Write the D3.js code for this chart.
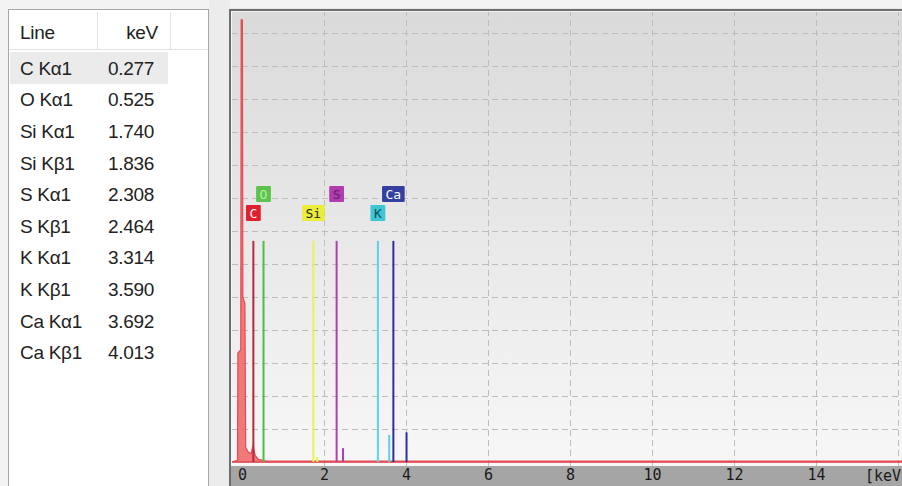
<!DOCTYPE html>
<html lang="en">
  <head>
    <meta charset="utf-8" />
    <title>EDS spectrum</title>
    <script src="https://cdnjs.cloudflare.com/ajax/libs/d3/7.8.5/d3.min.js"></script>
    <style type="text/css">
      body { margin: 0; background: #f3f3f3; }
      .cell { font-family: Arial, "Liberation Sans", sans-serif; font-size: 19px; fill: #222; letter-spacing: -0.3px; }
      .tick text { font-family: "DejaVu Sans Mono", monospace; font-size: 15px; fill: #1a1a1a; }
      .grid line { stroke: #bdbdbd; stroke-dasharray: 6, 4; }
      .grid .domain { display: none; }
      .tag { font-family: "DejaVu Sans Mono", monospace; font-size: 13px; }
    </style>
  </head>
  <body>
    <div id="chart"></div>
    <script>
      // Table of lines
      const lineNames = ['C Kα1', 'O Kα1', 'Si Kα1', 'Si Kβ1', 'S Kα1', 'S Kβ1', 'K Kα1', 'K Kβ1', 'Ca Kα1', 'Ca Kβ1'];
      const lineKeV = [0.277, 0.525, 1.740, 1.836, 2.308, 2.464, 3.314, 3.590, 3.692, 4.013];

      // Element markers (Kα) and their Kβ companions
      const elements = ['C', 'O', 'Si', 'S', 'K', 'Ca'];
      const alphaKeV = [0.277, 0.525, 1.740, 2.308, 3.314, 3.692];
      const alphaHeight = [6.7, 6.7, 6.7, 6.7, 6.7, 6.7];
      const betaKeV = [null, null, 1.836, 2.464, 3.590, 4.013];
      const betaHeight = [0, 0, 0.15, 0.42, 0.82, 0.9];
      const labelRow = [0, 1, 0, 1, 0, 1];
      const fillColors = ['#e0202e', '#5cc44c', '#ecec3a', '#b03cae', '#3ec6d2', '#3440a0'];
      const textColors = ['#ffffff', '#b8f0a8', '#202020', '#6a1a6a', '#0c4e56', '#ffffff'];
      const lineColors = ['#b8283c', '#48c048', '#f0f050', '#b040b0', '#5ad2ea', '#2e2e9c'];

      // Spectrum (keV, counts in grid units)
      const specKeV = [-0.25, -0.11, -0.10, -0.03, -0.02, 0.01, 0.02, 0.07, 0.09, 0.15, 0.22, 0.27, 0.32, 0.4, 0.6, 16.5];
      const specCounts = [0, 0.05, 3.3, 3.4, 13.4, 13.4, 5.0, 4.8, 0.45, 0.3, 0.25, 0.5, 0.2, 0.08, 0.03, 0.03];

      const xTicks = [0, 2, 4, 6, 8, 10, 12, 14];
      const yGrid = [1, 2, 3, 4, 5, 6, 7, 8, 9, 10, 11, 12, 13];

      const width = 902, height = 486;
      const svg = d3.select('#chart').append('svg')
        .attr('width', width)
        .attr('height', height);

      // ---- table panel ----
      svg.append('rect')
        .attr('x', 8.5).attr('y', 9.5).attr('width', 200).attr('height', 490)
        .attr('fill', '#fff').attr('stroke', '#a6a6a6');
      svg.append('line')
        .attr('x1', 9).attr('x2', 208).attr('y1', 49.5).attr('y2', 49.5)
        .attr('stroke', '#e2e2e2');
      [97.5, 170.5].forEach(xx => {
        svg.append('line')
          .attr('x1', xx).attr('x2', xx).attr('y1', 12).attr('y2', 49)
          .attr('stroke', '#e2e2e2');
      });
      svg.append('text').attr('class', 'cell').attr('x', 20).attr('y', 32).attr('dy', '0.36em').text('Line');
      svg.append('text').attr('class', 'cell').attr('x', 158).attr('y', 32).attr('dy', '0.36em')
        .attr('text-anchor', 'end').text('keV');

      const rowY = d3.scaleLinear().domain([0, 1]).range([68, 99.6]);
      svg.append('rect')
        .attr('x', 10).attr('y', 52).attr('width', 158).attr('height', 32)
        .attr('fill', '#ebebeb');
      const rows = svg.selectAll('.row').data(lineNames).join('g')
        .attr('class', 'row')
        .attr('transform', (d, i) => `translate(0, ${rowY(i)})`);
      rows.append('text').attr('class', 'cell').attr('x', 20).attr('dy', '0.36em').text(d => d);
      rows.append('text').attr('class', 'cell').attr('x', 108).attr('dy', '0.36em')
        .text((d, i) => lineKeV[i].toFixed(3));

      // ---- chart panel ----
      const plot = { left: 232, top: 12, right: 902, bottom: 466 };
      const x = d3.scaleLinear().domain([0, 16]).range([242, 898]);
      const y = d3.scaleLinear().domain([0, 14]).range([462, 0]);

      svg.append('rect')
        .attr('x', 209).attr('y', 0).attr('width', 21).attr('height', height)
        .attr('fill', '#ececec');

      const defs = svg.append('defs');
      const grad = defs.append('linearGradient').attr('id', 'bg')
        .attr('x1', 0).attr('x2', 0).attr('y1', 0).attr('y2', 1);
      grad.append('stop').attr('offset', '0%').attr('stop-color', '#dadada');
      grad.append('stop').attr('offset', '100%').attr('stop-color', '#f7f7f7');
      defs.append('clipPath').attr('id', 'clip').append('rect')
        .attr('x', plot.left).attr('y', plot.top)
        .attr('width', plot.right - plot.left).attr('height', plot.bottom - plot.top);

      svg.append('rect')
        .attr('x', plot.left).attr('y', plot.top)
        .attr('width', plot.right - plot.left).attr('height', plot.bottom - plot.top)
        .attr('fill', 'url(#bg)');

      // grid
      svg.append('g').attr('class', 'grid')
        .attr('transform', `translate(0, ${plot.bottom})`)
        .call(d3.axisBottom(x).tickValues([2, 4, 6, 8, 10, 12, 14, 16])
          .tickSize(-(plot.bottom - plot.top)).tickFormat(''));
      svg.append('g').attr('class', 'grid')
        .attr('transform', `translate(${plot.left}, 0)`)
        .call(d3.axisLeft(y).tickValues(yGrid)
          .tickSize(-(plot.right - plot.left)).tickFormat(''));

      const g = svg.append('g').attr('clip-path', 'url(#clip)');

      // spectrum
      const spec = specKeV.map((k, i) => [k, specCounts[i]]);
      const area = d3.area()
        .x(d => x(d[0]))
        .y0(y(0))
        .y1(d => y(d[1]));
      g.append('path').datum(spec)
        .attr('fill', '#f06a6a').attr('fill-opacity', 0.9)
        .attr('stroke', '#e84a52').attr('stroke-width', 1.2)
        .attr('d', area);
      g.append('line')
        .attr('x1', plot.left).attr('x2', plot.right)
        .attr('y1', y(0)).attr('y2', y(0))
        .attr('stroke', '#e0505a').attr('stroke-width', 1.5);

      // element markers
      elements.forEach((el, i) => {
        g.append('line')
          .attr('x1', x(alphaKeV[i])).attr('x2', x(alphaKeV[i]))
          .attr('y1', y(0)).attr('y2', y(alphaHeight[i]))
          .attr('stroke', lineColors[i]).attr('stroke-width', 2);
        if (betaKeV[i] !== null) {
          g.append('line')
            .attr('x1', x(betaKeV[i])).attr('x2', x(betaKeV[i]))
            .attr('y1', y(0)).attr('y2', y(betaHeight[i]))
            .attr('stroke', lineColors[i]).attr('stroke-width', 2);
        }
        const cy = y(alphaHeight[i]) - (labelRow[i] ? 47 : 28);
        const tag = g.append('g').attr('transform', `translate(${x(alphaKeV[i])}, ${cy})`);
        const txt = tag.append('text').attr('class', 'tag')
          .attr('text-anchor', 'middle').attr('dy', '0.36em')
          .attr('fill', textColors[i]).text(el);
        const w = txt.node().getComputedTextLength() + 7;
        tag.insert('rect', 'text')
          .attr('x', -w / 2).attr('y', -8).attr('width', w).attr('height', 16)
          .attr('rx', 1).attr('fill', fillColors[i]);
      });

      // frame
      svg.append('rect')
        .attr('x', 230).attr('y', 10).attr('width', 680).attr('height', 480)
        .attr('fill', 'none').attr('stroke', '#6e6e6e').attr('stroke-width', 2);
      svg.append('line')
        .attr('x1', 230).attr('x2', 902).attr('y1', 8.5).attr('y2', 8.5)
        .attr('stroke', '#e6e6e6');

      // x axis band
      svg.append('rect')
        .attr('x', 231).attr('y', plot.bottom).attr('width', width - 231).attr('height', height - plot.bottom)
        .attr('fill', '#a5a5a5');
      const xAxis = svg.append('g')
        .attr('transform', `translate(0, ${plot.bottom})`)
        .call(d3.axisBottom(x).tickValues(xTicks).tickSize(0).tickPadding(3));
      xAxis.select('.domain').remove();
      svg.append('text')
        .attr('x', 865).attr('y', 481)
        .attr('font-family', '"DejaVu Sans Mono", monospace').attr('font-size', 15)
        .attr('fill', '#1a1a1a').text('[keV');
    </script>
  </body>
</html>
